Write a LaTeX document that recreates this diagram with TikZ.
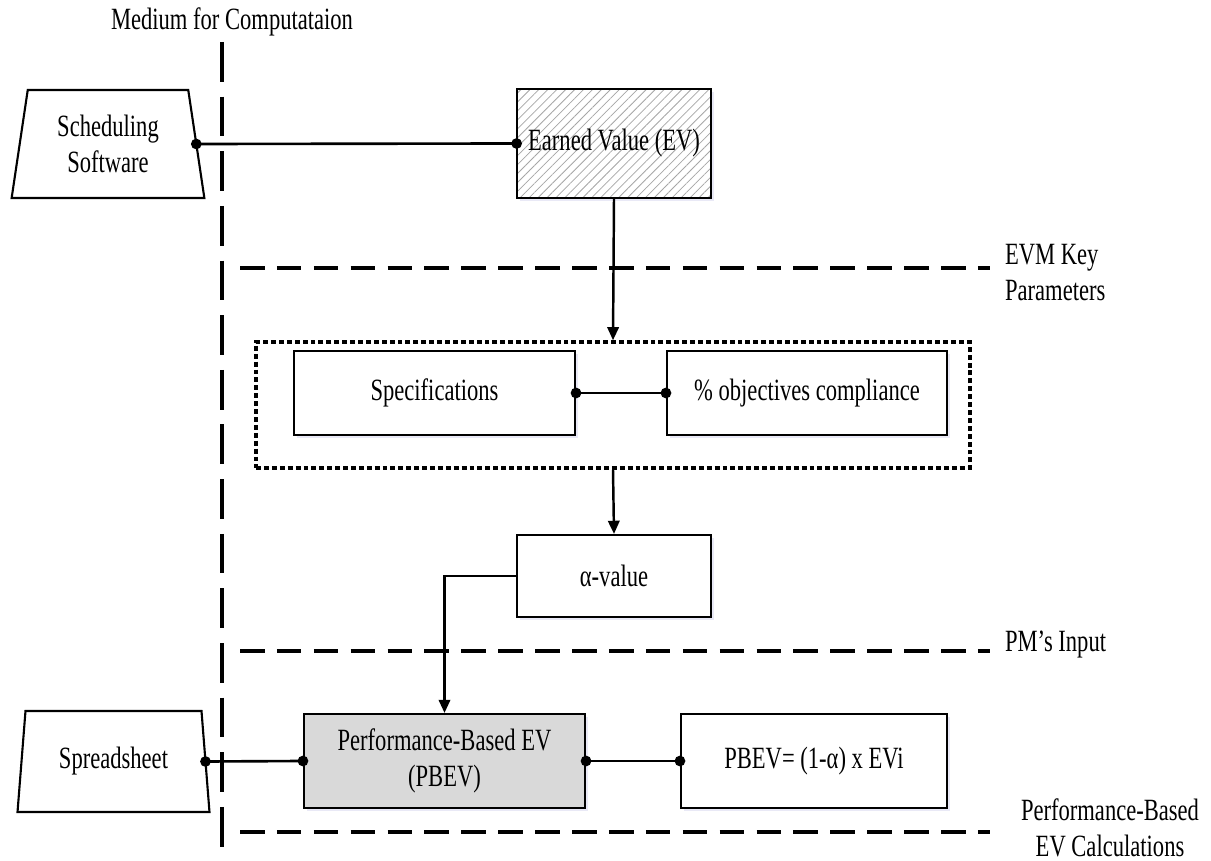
\documentclass[tikz,border=0pt]{standalone}
\usepackage{fontspec}
\setmainfont{Liberation Serif}[FakeStretch=0.73]
\usetikzlibrary{positioning,arrows.meta,shapes.geometric,patterns.meta,shadows}

\begin{document}
\begin{tikzpicture}[x=0.02cm, y=-0.02cm,
  font=\fontsize{17.6}{20.5}\selectfont,
  blk/.style={draw, line width=1.2pt, minimum width=5.62cm, minimum height=1.68cm,
              align=center, inner sep=2pt, fill=white,
              drop shadow={shadow xshift=1.5pt, shadow yshift=-1.5pt, opacity=0.12, fill=blue!40!gray}},
  hatched/.style={preaction={fill=white},
                  pattern={Lines[angle=45, distance=3.6pt, line width=0.45pt]}, pattern color=gray!70},
  src/.style={draw, trapezium, trapezium angle=80, trapezium stretches=true,
              minimum width=3.86cm, minimum height=2.16cm, line width=1.2pt,
              align=center, inner sep=0pt, outer sep=0pt, fill=white},
  group/.style={draw, line width=2pt, dash pattern=on 2.8pt off 1.7pt,
                minimum width=14.28cm, minimum height=2.52cm},
  link/.style={{Circle[length=6pt]}-{Circle[length=6pt]}, line width=1.5pt,
               shorten <=-3pt, shorten >=-3pt},
  flow/.style={-{Triangle[length=7.5pt, width=6.5pt]}, line width=1.4pt},
  divider/.style={line width=2.8pt, dash pattern=on 14pt off 7pt},
  medline/.style={line width=1.9pt, dash pattern=on 22.6pt off 8.5pt},
  note/.style={inner sep=1pt},
]
\useasboundingbox (0,0) rectangle (1211,861);

% computation medium split
\node[note] (medium) at (232,22) {Medium for Computataion};
\draw[medline] (222,42) -- (222,861);

% sources
\node[src] (sched) at (108,144) {Scheduling\\Software};
\node[src, minimum height=2.02cm] (sheet) at (113.5,761.5) {Spreadsheet};

% main blocks
\node[blk, hatched, minimum width=3.88cm, minimum height=2.18cm] (ev) at (614,143.5) {Earned Value (EV)};
\node[group] (keys) at (613,405) {};
\node[blk] (spec) at (434.5,393) {Specifications};
\node[blk, minimum width=5.6cm] (obj) at (807,393) {\% objectives compliance};
\node[blk, minimum width=3.88cm, minimum height=1.64cm] (alpha) at (614,576) {α-value};
\node[blk, fill=gray!30, minimum height=1.88cm] (pbev) at (444.5,761) {Performance-Based EV\\(PBEV)};
\node[blk, minimum width=5.32cm, minimum height=1.88cm] (calc) at (814,761) {PBEV= (1-α) x EVi};

% connectors
\draw[link] (sched.east) -- (ev.west);
\draw[link] (spec.east) -- (obj.west);
\draw[link] (sheet.east) -- (pbev.west);
\draw[link] (pbev.east) -- (calc.west);
\draw[flow] (ev.south) -- (keys.north);
\draw[flow] (keys.south) -- (alpha.north);
\draw[flow] (alpha.west) -| (pbev.north);

% stage dividers
\draw[divider] (240,268) -- (990,268);
\draw[divider] (240,651) -- (990,651);
\draw[divider] (240,832) -- (990,832);
\node[note, align=left, anchor=west] (evmkey) at (1003,273) {EVM Key\\Parameters};
\node[note, anchor=west] (pminput) at (1003,645) {PM’s Input};
\node[note, align=center] (pbcalc) at (1110,828) {Performance-Based\\EV Calculations};
\end{tikzpicture}
\end{document}
